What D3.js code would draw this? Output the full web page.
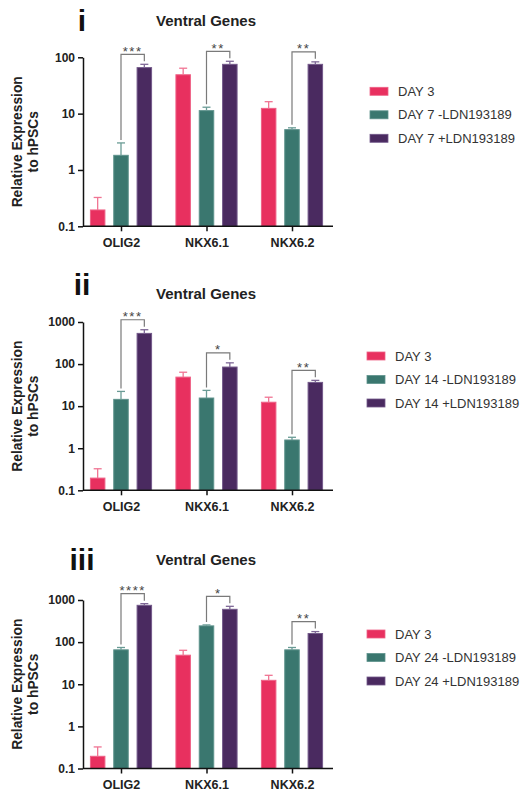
<!DOCTYPE html>
<html>
<head>
<meta charset="utf-8">
<script src="https://cdn.jsdelivr.net/npm/d3@7"></script>
<style>
  html, body { margin: 0; padding: 0; background: #fff; }
  svg { display: block; font-family: "Liberation Sans", Arial, Helvetica, sans-serif; }
</style>
</head>
<body>
<svg id="chart" width="525" height="793"></svg>
<script>
// ---------------- DATA ----------------
const genes = ["OLIG2", "NKX6.1", "NKX6.2"];
const panelLabels = ["i", "ii", "iii"];
const panelTitle = "Ventral Genes";
const yAxisTitle = ["Relative Expression", "to hPSCs"];

const day3Mean = [0.195, 49, 12.4];
const day3Sem  = [0.13, 15, 3.9];

const day7MinusMean = [1.82, 11.3, 5.2];
const day7MinusSem  = [1.2, 1.7, 0.4];
const day7PlusMean  = [65.6, 75, 75];
const day7PlusSem   = [9.5, 10, 8];

const day14MinusMean = [14.5, 15.6, 1.57];
const day14MinusSem  = [7.9, 8.1, 0.25];
const day14PlusMean  = [536, 85, 36.7];
const day14PlusSem   = [119, 22, 4.3];

const day24MinusMean = [65.6, 243, 65.6];
const day24MinusSem  = [9, 13, 9];
const day24PlusMean  = [748, 601, 160];
const day24PlusSem   = [71, 107, 18];

const seriesNames7  = ["DAY 3", "DAY 7 -LDN193189", "DAY 7 +LDN193189"];
const seriesNames14 = ["DAY 3", "DAY 14 -LDN193189", "DAY 14 +LDN193189"];
const seriesNames24 = ["DAY 3", "DAY 24 -LDN193189", "DAY 24 +LDN193189"];

const sig7  = ["***", "**", "**"];
const sig14 = ["***", "*", "**"];
const sig24 = ["****", "*", "**"];

const ticks7  = [0.1, 1, 10, 100];
const ticks14 = [0.1, 1, 10, 100, 1000];
const ticks24 = [0.1, 1, 10, 100, 1000];

// ---------------- STYLE / LAYOUT ----------------
const colors    = ["#E8305F", "#3A776F", "#4A2A60"];
const edgeCols  = ["#EE6186", "#5E928C", "#73598A"];
const errCols   = ["#F07493", "#6A9B95", "#7E6796"];

const panels = [
  { label: panelLabels[0], names: seriesNames7,
    means: [day3Mean, day7MinusMean, day7PlusMean], sems: [day3Sem, day7MinusSem, day7PlusSem],
    sig: sig7, ticks: ticks7, yTop: 57.3, yBot: 226.3, titleY: 26, labelY: 31, legX: 370 },
  { label: panelLabels[1], names: seriesNames14,
    means: [day3Mean, day14MinusMean, day14PlusMean], sems: [day3Sem, day14MinusSem, day14PlusSem],
    sig: sig14, ticks: ticks14, yTop: 322, yBot: 490.3, titleY: 299, labelY: 295, legX: 367 },
  { label: panelLabels[2], names: seriesNames24,
    means: [day3Mean, day24MinusMean, day24PlusMean], sems: [day3Sem, day24MinusSem, day24PlusSem],
    sig: sig24, ticks: ticks24, yTop: 600, yBot: 768.5, titleY: 565, labelY: 570, legX: 367 }
];

const axisX0 = 83, axisX1 = 333;
const svg = d3.select("#chart");

const x = d3.scalePoint().domain(genes).range([121, 292]);
const xs = d3.scaleBand().domain([0, 1, 2]).range([-35, 35]).paddingInner(0.336).paddingOuter(0.168);
const fmt = v => (v < 1 ? String(v) : d3.format("d")(v));

panels.forEach(p => {
  const g = svg.append("g");
  const y = d3.scaleLog().domain([p.ticks[0], p.ticks[p.ticks.length - 1]]).range([p.yBot, p.yTop]);

  // panel label & title
  g.append("text").attr("x", 82).attr("y", p.labelY).attr("text-anchor", "middle")
    .attr("font-size", 30).attr("font-weight", "bold").attr("fill", "#111").text(p.label);
  g.append("text").attr("x", 206).attr("y", p.titleY).attr("text-anchor", "middle")
    .attr("font-size", 15).attr("font-weight", "bold").attr("fill", "#222").text(panelTitle);

  // y axis title
  const midY = (p.yTop + p.yBot) / 2;
  yAxisTitle.forEach((t, i) => {
    g.append("text").attr("transform", `translate(${22 + i * 16},${midY}) rotate(-90)`)
      .attr("text-anchor", "middle").attr("font-size", 13.8).attr("font-weight", "bold")
      .attr("fill", "#222").text(t);
  });

  // bars
  const data = [];
  genes.forEach((gene, gi) => {
    p.means.forEach((arr, si) => {
      data.push({ gene, si, v: arr[gi], e: p.sems[si][gi] });
    });
  });
  const cx = d => x(d.gene) + xs(d.si) + xs.bandwidth() / 2;

  g.selectAll("rect.bar").data(data).join("rect").attr("class", "bar")
    .attr("x", d => x(d.gene) + xs(d.si) + 0.5)
    .attr("width", xs.bandwidth() - 1)
    .attr("y", d => y(d.v))
    .attr("height", d => p.yBot - y(d.v))
    .attr("fill", d => colors[d.si])
    .attr("stroke", d => edgeCols[d.si]).attr("stroke-width", 1);

  // error bars
  g.selectAll("line.err").data(data).join("line").attr("class", "err")
    .attr("x1", cx).attr("x2", cx)
    .attr("y1", d => y(d.v)).attr("y2", d => y(d.v + d.e))
    .attr("stroke", d => errCols[d.si]).attr("stroke-width", 1.3);
  g.selectAll("line.cap").data(data).join("line").attr("class", "cap")
    .attr("x1", d => cx(d) - 4).attr("x2", d => cx(d) + 4)
    .attr("y1", d => y(d.v + d.e)).attr("y2", d => y(d.v + d.e))
    .attr("stroke", d => errCols[d.si]).attr("stroke-width", 1.3);

  // significance brackets (between series 1 and 2)
  genes.forEach((gene, gi) => {
    const a = data.find(d => d.gene === gene && d.si === 1);
    const b = data.find(d => d.gene === gene && d.si === 2);
    const ya = y(a.v + a.e), yb = y(b.v + b.e);
    const top = Math.min(ya, yb) - 10;
    const xa = cx(a), xb = cx(b);
    g.append("path")
      .attr("d", `M${xa},${ya - 3}V${top}H${xb}V${yb - 3}`)
      .attr("fill", "none").attr("stroke", "#7a7a7a").attr("stroke-width", 1.2);
    g.append("text").attr("x", (xa + xb) / 2).attr("y", top + 1.5)
      .attr("text-anchor", "middle").attr("font-size", 13).attr("letter-spacing", 1.5)
      .attr("fill", "#444").text(p.sig[gi]);
  });

  // y axis
  const ya = g.append("g").attr("transform", `translate(${axisX0},0)`)
    .call(d3.axisLeft(y).tickValues(p.ticks).tickFormat(fmt).tickSize(5).tickSizeOuter(0).tickPadding(3));
  ya.select(".domain").attr("stroke", "#111").attr("stroke-width", 1.5);
  ya.selectAll(".tick line").attr("stroke", "#111").attr("stroke-width", 1.5);
  ya.selectAll(".tick text").attr("font-size", 12).attr("font-weight", "bold").attr("fill", "#222")
    .attr("font-family", "Liberation Sans, Arial, sans-serif");

  // x axis
  const xa = g.append("g").attr("transform", `translate(0,${p.yBot})`)
    .call(d3.axisBottom(x).tickSize(5).tickSizeOuter(0).tickPadding(6.5));
  xa.select(".domain").remove();
  xa.append("line").attr("x1", axisX0).attr("x2", axisX1).attr("stroke", "#111").attr("stroke-width", 1.5);
  xa.selectAll(".tick line").attr("stroke", "#111").attr("stroke-width", 1.5);
  xa.selectAll(".tick text").attr("font-size", 12.5).attr("font-weight", "bold").attr("fill", "#222")
    .attr("font-family", "Liberation Sans, Arial, sans-serif");

  // legend
  p.names.forEach((n, i) => {
    const ly = p.yTop + 34 + i * 23.5;
    g.append("rect").attr("x", p.legX).attr("y", ly - 4).attr("width", 18).attr("height", 8)
      .attr("fill", colors[i]).attr("stroke", edgeCols[i]).attr("stroke-width", 0.8);
    g.append("text").attr("x", p.legX + 28).attr("y", ly).attr("dy", "0.35em")
      .attr("font-size", 13).attr("fill", "#333").text(n);
  });
});
</script>
</body>
</html>
